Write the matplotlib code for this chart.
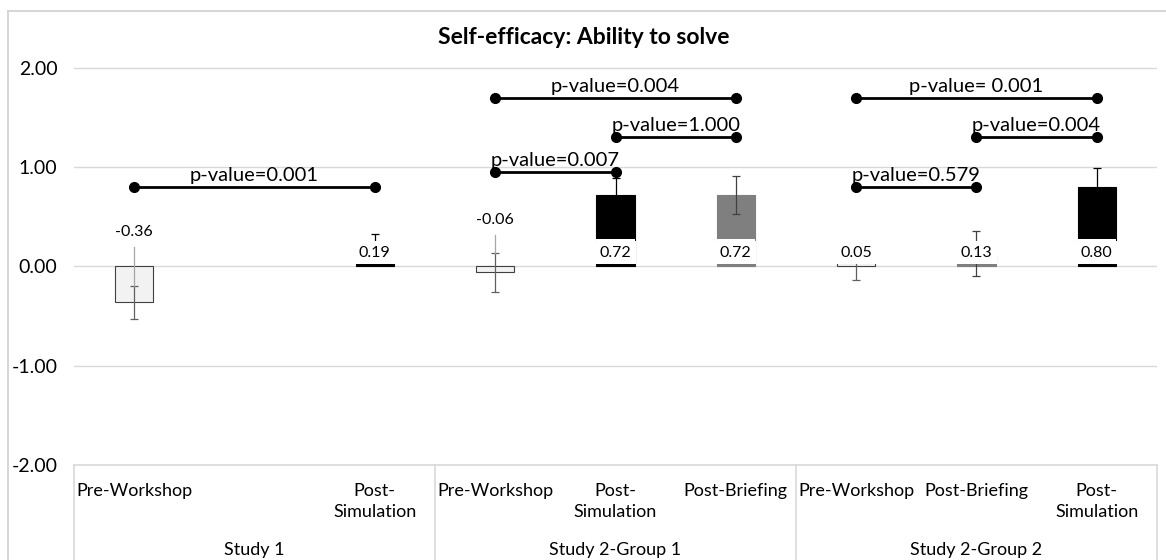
import numpy as np
import matplotlib
matplotlib.use("Agg")
import matplotlib.pyplot as plt
from matplotlib.lines import Line2D

plt.rcParams['font.family'] = ['Lato', 'DejaVu Sans']

# ---- data ----
groups = ["Study 1", "Study 2-Group 1", "Study 2-Group 2"]
conditions = ["Pre-Workshop", "", "Post-Simulation",
              "Pre-Workshop", "Post-Simulation", "Post-Briefing",
              "Pre-Workshop", "Post-Briefing", "Post-Simulation"]
tick_text = ["Pre-Workshop", "", "Post-\nSimulation",
             "Pre-Workshop", "Post-\nSimulation", "Post-Briefing",
             "Pre-Workshop", "Post-Briefing", "Post-\nSimulation"]
means = [-0.36, np.nan, 0.19, -0.06, 0.72, 0.72, 0.05, 0.13, 0.80]
errors = [0.165, np.nan, 0.14, 0.195, 0.17, 0.19, 0.19, 0.23, 0.19]

pairs = [(0, 2), (3, 4), (4, 5), (3, 5), (6, 7), (7, 8), (6, 8)]
pair_levels = [0.80, 0.95, 1.30, 1.70, 0.80, 1.30, 1.70]
pair_text = ["p-value=0.001", "p-value=0.007", "p-value=1.000", "p-value=0.004",
             "p-value=0.579", "p-value=0.004", "p-value= 0.001"]

# ---- style ----
fill = {"Pre-Workshop": "#f2f2f2", "Post-Simulation": "#000000", "Post-Briefing": "#7f7f7f"}
edge = {"Pre-Workshop": "#404040", "Post-Simulation": "#000000", "Post-Briefing": "#7f7f7f"}
err_col = {"Pre-Workshop": "#606060", "Post-Simulation": "#000000", "Post-Briefing": "#404040"}
grid_col = "#d9d9d9"
bar_w = 0.316
# vertical placement of labels that were dragged above negative bars
moved_label_y = {0: 0.345, 3: 0.465}

W, H = 1166, 560
fig = plt.figure(figsize=(W / 100, H / 100), dpi=100)
ax = fig.add_axes([74 / W, 1 - 465 / H, (1157 - 74) / W, (465 - 48) / H])

x = np.arange(len(conditions))
ax.set_xlim(-0.5, len(conditions) - 0.5)
ax.set_ylim(-2.0, 2.2)

for yv in [-1, 0, 1, 2]:
    ax.axhline(yv, color=grid_col, lw=1.0, zorder=0)
ax.axhline(-2, color=grid_col, lw=1.2, zorder=0, clip_on=False)

for i, (c, m, e) in enumerate(zip(conditions, means, errors)):
    if not c:
        continue
    ax.bar(x[i], m, width=bar_w, color=fill[c], edgecolor=edge[c], lw=0.8, zorder=2)
    ax.errorbar(x[i], m, yerr=e, fmt='none', ecolor=err_col[c], elinewidth=0.9,
                capsize=3, capthick=0.9, zorder=3)
    if m >= 0:
        # white label box sitting on the base of the bar
        top = min(m, 0.28)
        ax.add_patch(plt.Rectangle((x[i] - bar_w / 2, 0.035), bar_w, max(top - 0.035, 0),
                                   facecolor="white", edgecolor="none", zorder=4))
        ax.text(x[i], 0.14, f"{m:.2f}", ha='center', va='center', fontsize=11.5,
                color="#000000", zorder=5,
                bbox=dict(boxstyle='square,pad=0.3', fc='white', ec='none'))
    else:
        ly = moved_label_y[i]
        ax.text(x[i], ly, f"{m:.2f}", ha='center', va='center', fontsize=11.5, zorder=5)
        ax.plot([x[i], x[i]], [ly - 0.15, m + e], color="#a6a6a6", lw=0.9, zorder=3)

for (a, b), lvl, t in zip(pairs, pair_levels, pair_text):
    ax.plot([x[a], x[b]], [lvl, lvl], color='black', lw=2.0, marker='o',
            markersize=7, zorder=6)
    ax.text((x[a] + x[b]) / 2, lvl + 0.03, t, ha='center', va='bottom',
            fontsize=14.5, zorder=6)

# y axis
ax.set_yticks([-2, -1, 0, 1, 2])
ax.set_yticklabels([f"{v:.2f}" for v in [-2, -1, 0, 1, 2]], fontsize=14)
ax.tick_params(axis='y', length=0, pad=12)
ax.set_xticks([])
for s in ax.spines.values():
    s.set_visible(False)

# two-level category table under the plot
tr = ax.get_xaxis_transform()
for xb in [-0.5, 2.5, 5.5, 8.5]:
    ax.plot([xb, xb], [0, -0.3], transform=tr, color=grid_col, lw=1.2, clip_on=False)
for i, t in enumerate(tick_text):
    if t:
        ax.text(x[i], -0.042, t, transform=tr, ha='center', va='top', fontsize=13,
                linespacing=1.45)
for g, name in enumerate(groups):
    ax.text(3 * g + 1, -0.203, name, transform=tr, ha='center', va='center', fontsize=13)

# title and chart frame
fig.text(584 / W, 1 - 37 / H, "Self-efficacy: Ability to solve", ha='center', va='center',
         fontsize=16.5, fontweight='bold')
fig.add_artist(Line2D([8 / W, 8 / W], [0, 1 - 11 / H], color="#d0d0d0", lw=1.2))
fig.add_artist(Line2D([8 / W, 1.0], [1 - 11 / H, 1 - 11 / H], color="#d0d0d0", lw=1.2))

fig.savefig("out.png", dpi=100, facecolor="white")
